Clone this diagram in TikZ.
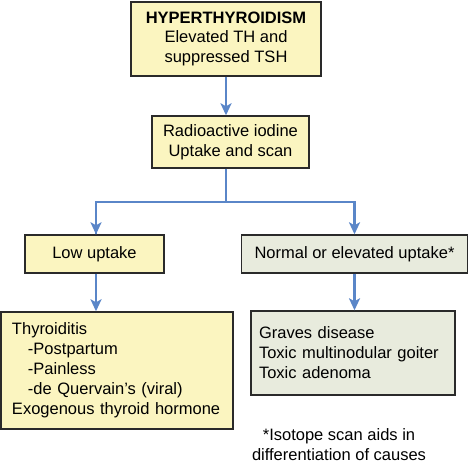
\documentclass[tikz,border=0pt]{standalone}
\usepackage{fontspec}
\setmainfont{Liberation Sans}
\usetikzlibrary{arrows.meta}
\definecolor{boxyellow}{HTML}{FBF5C0}
\definecolor{boxgreen}{HTML}{E8EBDD}
\definecolor{arrowblue}{HTML}{5A86C8}
\definecolor{edgegray}{HTML}{2A2A2A}
\begin{document}
\begin{tikzpicture}[x=1pt,y=1pt,
  font=\fontsize{16.5}{20}\selectfont,
  flowbox/.style={draw=edgegray, line width=1.4pt, rectangle, inner sep=0pt, align=center},
  ybox/.style={flowbox, fill=boxyellow},
  gbox/.style={flowbox, fill=boxgreen},
  arr/.style={draw=arrowblue, line width=2.4pt, -{Stealth[length=12pt,width=11pt,inset=3pt]}},
  conn/.style={draw=arrowblue, line width=2.4pt}
]
\useasboundingbox (0,0) rectangle (469,-464);

\node[ybox, minimum width=190, minimum height=74] (top) at (226,-39)
  {\textbf{HYPERTHYROIDISM}\\[-1pt]Elevated TH and\\suppressed TSH};
\node[ybox, minimum width=157, minimum height=52] (ria) at (230.5,-142)
  {Radioactive iodine\\Uptake and scan};
\node[ybox, minimum width=139, minimum height=38] (low) at (94.5,-254) {Low uptake};
\node[gbox, minimum width=226, minimum height=38] (norm) at (354.5,-254) {Normal or elevated uptake*};

\node[ybox, minimum width=232, minimum height=117, text width=210, inner xsep=11, align=left] (lowlist) at (117,-370.5)
  {Thyroiditis\\
   \hspace*{16pt}-Postpartum\\
   \hspace*{16pt}-Painless\\
   \hspace*{16pt}-de Quervain\char"27 s (viral)\\
   Exogenous thyroid hormone};
\node[gbox, minimum width=204, minimum height=84, text width=188, inner xsep=8, align=left] (rightlist) at (353,-353)
  {Graves disease\\
   Toxic multinodular goiter\\
   Toxic adenoma\par\vspace{6pt}};

\node[align=center, inner sep=0pt] (note) at (339,-445) {*Isotope scan aids in\\differentiation of causes};

\coordinate (split) at (226,-202);
\draw[arr] (top.south) -- (top.south |- ria.north);
\draw[conn] (ria.south -| split) -- (split);
\draw[arr] (split) -| (96,-234) coordinate (lowtip) -- (low.north -| lowtip);
\draw[arr] (split) -| (norm.north);
\draw[arr] (low.south -| lowtip) -- (lowtip |- lowlist.north);
\draw[arr] (norm.south) -- (norm.south |- rightlist.north);
\end{tikzpicture}
\end{document}
